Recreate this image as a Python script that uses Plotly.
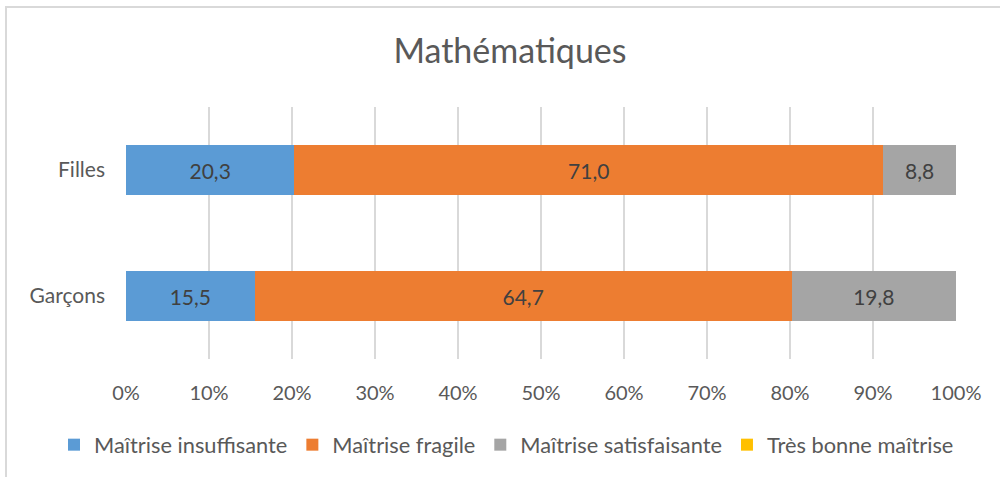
import plotly.graph_objects as go

categories = ["Garçons", "Filles"]
series_names = ["Maîtrise insuffisante", "Maîtrise fragile", "Maîtrise satisfaisante", "Très bonne maîtrise"]
insuffisante = [15.5, 20.3]
fragile = [64.7, 71.0]
satisfaisante = [19.8, 8.8]
tres_bonne = [0.0, 0.0]
colors = ["#5B9BD5", "#ED7D31", "#A5A5A5", "#FFC000"]
tick_vals = [0, 10, 20, 30, 40, 50, 60, 70, 80, 90, 100]
tick_text = [f"{v}%" for v in tick_vals]

FONT = "Lato"
L, R, T, B = 126, 44, 107, 118
PW, PH = 1000 - L - R, 477 - T - B

def fmt(vals):
    return [("" if v == 0 else f"{v:.1f}".replace(".", ",")) for v in vals]

fig = go.Figure()
for name, vals, col in zip(series_names, [insuffisante, fragile, satisfaisante, tres_bonne], colors):
    fig.add_trace(go.Bar(
        y=categories, x=vals, name=name, orientation="h",
        marker=dict(color=col, line=dict(width=0)),
        text=fmt(vals), textposition="inside", insidetextanchor="middle",
        textangle=0, constraintext="none",
        textfont=dict(family=FONT, size=21, color="#404040"),
        width=0.4, hoverinfo="x+name",
    ))

fig.update_layout(
    barmode="stack", barnorm="percent",
    width=1000, height=477,
    margin=dict(l=L, r=R, t=T, b=B, autoexpand=False),
    paper_bgcolor="white", plot_bgcolor="white",
    font=dict(family=FONT, color="#595959"),
    title=dict(text="Mathématiques", x=0.510, xanchor="center", y=1 - 51 / 477, yanchor="middle",
               font=dict(family=FONT, size=34, color="#595959")),
    xaxis=dict(range=[0, 100], tickvals=tick_vals, ticktext=tick_text,
               showgrid=True, gridcolor="#D9D9D9", gridwidth=2, zeroline=False,
               showline=False, ticks="", ticklabelstandoff=20,
               tickfont=dict(family=FONT, size=20, color="#595959")),
    yaxis=dict(categoryorder="array", categoryarray=categories, range=[-0.5, 1.5],
               showgrid=False, zeroline=False, showline=False, ticks="",
               ticklabelstandoff=20,
               tickfont=dict(family=FONT, size=21, color="#595959")),
    legend=dict(orientation="h", x=(54 - L) / PW, xanchor="left", y=-(445 - (T + PH)) / PH, yanchor="middle",
                traceorder="normal", font=dict(family=FONT, size=21.8, color="#595959"),
                itemclick=False, itemwidth=30),
    showlegend=True,
    shapes=[dict(type="rect", xref="paper", yref="paper", x0=(6 - L) / PW, x1=1.2,
                 y0=-0.6, y1=(T + PH - 7) / PH, line=dict(color="#D9D9D9", width=2),
                 fillcolor="rgba(0,0,0,0)", layer="below")],
)

fig.write_html("out.html", config={"displayModeBar": False},
               post_script="document.body.style.margin='0px';")
